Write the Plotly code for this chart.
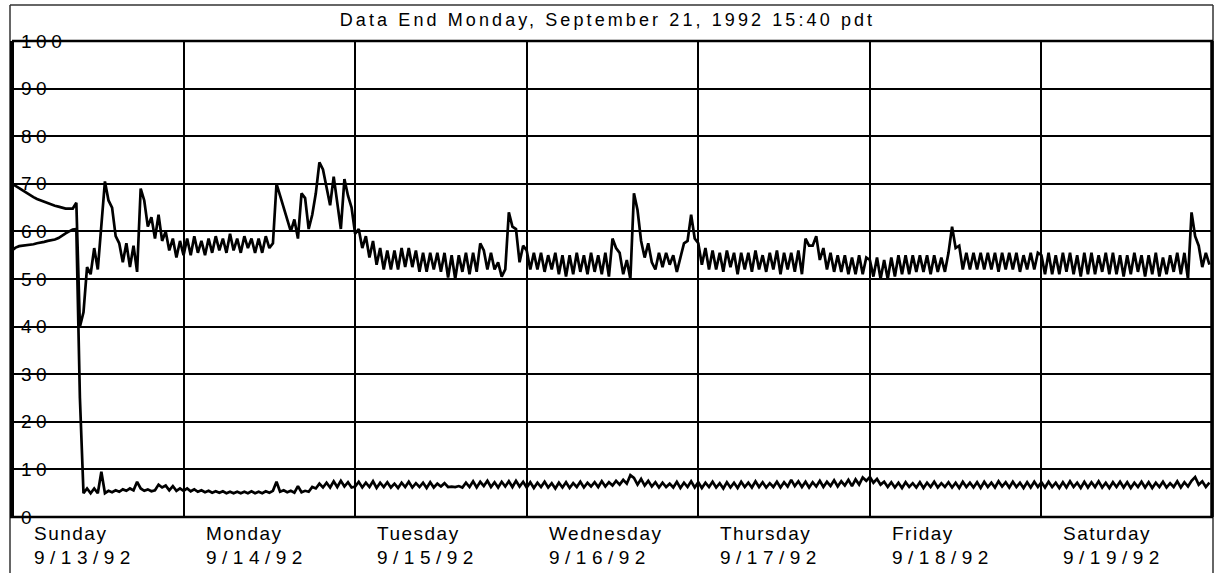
import plotly.graph_objects as go

# ---------------- data ----------------
title_text = "Data End Monday, September 21, 1992 15:40 pdt"
day_names = ["Sunday", "Monday", "Tuesday", "Wednesday", "Thursday", "Friday", "Saturday"]
day_dates = ["9/13/92", "9/14/92", "9/15/92", "9/16/92", "9/17/92", "9/18/92", "9/19/92"]
y_tick_values = [0, 10, 20, 30, 40, 50, 60, 70, 80, 90, 100]
sample_hours = 0.5   # one reading every half hour

upper_sun = [70, 69.6, 69.1, 68.6, 68.1, 67.6, 67.2, 66.8, 66.5, 66.2, 65.9, 65.6, 65.4, 65.2, 65.0, 64.8, 64.8, 64.8, 66.0,
             40, 43, 52.5, 51, 56.5, 52, 62, 70.5, 66.5, 65, 59, 57.5, 53.5, 57.5, 52.5, 57, 51.5, 69, 66.5, 61, 63, 58.5,
             63.5, 58, 60, 56, 58.5, 54.5, 58]
upper_mon = [55, 58.5, 55, 59, 55.5, 58, 55, 58.5, 55.5, 59, 56, 58.5, 55.5, 59.5, 56, 58.5, 55.5, 59, 56.5, 58.5, 55.5,
             58.5, 55.5, 59, 56.5, 57.5, 70, 67.5, 65, 62, 60, 62.5, 58.5, 68, 67, 60.5, 63.5, 68, 74.5, 73, 69.5, 65.5,
             71.5, 65.5, 60.5, 71, 67.5, 65]
upper_tue = [59.5, 60.5, 56.5, 59, 54.5, 58, 53, 56.5, 52, 56, 52, 56, 52, 56.5, 52.5, 56.5, 52.5, 56, 51.5, 55.5, 51.5,
             55.5, 52, 55.5, 51.5, 55.5, 50.3, 55, 50, 55, 51.5, 55.5, 51, 55.5, 51.5, 57.5, 56, 52, 55.5, 52, 53.5, 50.5,
             52, 64, 61, 60.5, 53.5, 57]
upper_wed = [56, 52, 55.5, 52, 55.5, 51.5, 55, 52, 55.5, 51, 55, 50.5, 55, 51, 55.5, 51.5, 55, 51, 55.5, 51.5, 55, 51,
             55.5, 50.5, 58.5, 56.5, 55.5, 51, 54, 50, 68, 64.5, 58, 54.5, 57.5, 53.5, 52, 55.5, 52.5, 55.5, 53, 55, 51.5,
             54.5, 57.5, 58, 63.5, 58.5]
upper_thu = [57.5, 53, 56.5, 52, 56, 52, 55.5, 51.5, 56, 52.5, 55.5, 51, 55.5, 52, 55.5, 51.5, 56, 52, 55, 51.5, 55.5,
             52, 56, 51, 55.5, 52, 55.5, 51.5, 56, 51, 58.5, 57, 57, 59, 54, 56.5, 52, 55.5, 51.5, 55, 51.5, 55, 51, 54.5,
             51, 55, 51, 54.5]
upper_fri = [54, 50.5, 54.5, 50, 54, 50, 54.5, 50.5, 55, 51, 55, 51, 55, 51.5, 55, 51.5, 55, 51, 55, 51.5, 54.5, 51.5,
             55.5, 61, 56.5, 57, 52, 55.5, 52, 55.5, 52, 55.5, 52, 55.5, 52, 55.5, 51.5, 55.5, 52, 55.5, 52, 55.5, 51.5,
             55, 52, 55.5, 52, 55.5]
upper_sat = [55, 51, 55.5, 51, 55, 51, 55.5, 51.5, 55.5, 51, 55, 50.5, 55.5, 51, 55.5, 51, 55, 51.5, 55.5, 51, 55.5, 51,
             55, 50.5, 55, 51, 55.5, 51.5, 55, 50.5, 55, 51, 55.5, 50.5, 54.5, 51, 55, 51.5, 55.5, 51, 55.5, 50, 64, 59,
             57, 52.5, 55.5, 53]

lower_sun = [56, 56.6, 56.9, 57, 57, 57.1, 57.3, 57.5, 57.6, 57.8, 58, 58.1, 58.3, 58.6, 59.2, 59.6, 60, 60.4, 60.5,
             25, 5, 6, 5, 6, 5, 9.5, 5, 5.5, 5.2, 5.6, 5.3, 5.8, 5.5, 6.0, 5.6, 7.4, 6.0, 5.5, 5.8, 5.4, 5.6, 6.8, 6.2,
             6.6, 5.6, 6.5, 5.5, 6]
lower_mon = [5.5, 6, 5.4, 5.8, 5.3, 5.6, 5.2, 5.5, 5.1, 5.4, 5.1, 5.4, 5.0, 5.3, 5.0, 5.3, 5.0, 5.3, 5.0, 5.4, 5.0, 5.3,
             5.0, 5.4, 5.1, 5.5, 7.4, 5.3, 5.6, 5.2, 5.5, 5.1, 6.5, 5.2, 5.5, 5.3, 6.3, 6.0, 7.0, 6.2, 7.2, 6.2, 7.5, 6.3,
             7.6, 6.4, 7.3, 6.2]
lower_tue = [6.4, 7.4, 6.2, 7.2, 6.3, 7.5, 6.1, 7.2, 6.3, 7.3, 6.2, 7.0, 6.1, 7.2, 6.3, 7.4, 6.2, 7.1, 6.3, 7.2, 6.1, 7.3,
             6.2, 7.0, 6.4, 7.1, 6.3, 6.4, 6.3, 6.5, 6.2, 7.2, 6.3, 7.5, 6.2, 7.4, 6.5, 7.6, 6.3, 7.3, 6.2, 7.4, 6.4, 7.5,
             6.3, 7.6, 6.4, 7.4]
lower_wed = [6.2, 7.3, 6.1, 7.2, 6.3, 7.4, 6.2, 7.1, 6.0, 7.2, 6.2, 7.3, 6.1, 7.1, 6.3, 7.4, 6.2, 7.2, 6.4, 7.3, 6.3, 7.5,
             6.4, 7.3, 6.6, 7.6, 6.8, 7.8, 7.0, 8.8, 8.2, 6.8, 8.0, 6.6, 7.6, 6.4, 7.3, 6.2, 7.2, 6.3, 7.0, 6.2, 7.4, 6.1,
             7.2, 6.3, 7.5, 6.2]
lower_thu = [7.3, 6.1, 7.2, 6.3, 7.4, 6.2, 7.1, 6.0, 7.3, 6.2, 7.2, 6.1, 7.4, 6.3, 7.2, 6.2, 7.5, 6.3, 7.3, 6.2, 7.1, 6.3,
             7.4, 6.2, 7.3, 6.4, 7.8, 6.5, 7.5, 6.3, 7.4, 6.2, 7.3, 6.4, 7.6, 6.3, 7.4, 6.5, 7.7, 6.4, 7.5, 6.6, 7.8, 6.5,
             7.9, 6.8, 8.3, 7.6]
lower_fri = [8.4, 7.2, 8.0, 6.8, 7.4, 6.3, 7.3, 6.2, 7.2, 6.1, 7.3, 6.3, 7.1, 6.2, 7.3, 6.1, 7.2, 6.3, 7.4, 6.2, 7.1, 6.3,
             7.3, 6.2, 7.2, 6.1, 7.4, 6.3, 7.2, 6.2, 7.3, 6.1, 7.4, 6.3, 7.2, 6.2, 7.5, 6.4, 7.3, 6.2, 7.4, 6.3, 7.2, 6.1,
             7.3, 6.2, 7.4, 6.3]
lower_sat = [7.3, 6.2, 7.4, 6.3, 7.2, 6.1, 7.3, 6.2, 7.5, 6.3, 7.2, 6.1, 7.4, 6.2, 7.3, 6.3, 7.5, 6.2, 7.2, 6.1, 7.3, 6.3,
             7.4, 6.2, 7.3, 6.1, 7.2, 6.3, 7.4, 6.2, 7.3, 6.1, 7.2, 6.3, 7.4, 6.2, 7.1, 6.3, 7.5, 6.2, 7.3, 6.4, 7.6, 8.4,
             6.8, 7.5, 6.3, 7.2]

upper = upper_sun + upper_mon + upper_tue + upper_wed + upper_thu + upper_fri + upper_sat
lower = lower_sun + lower_mon + lower_tue + lower_wed + lower_thu + lower_fri + lower_sat
t_upper = [i * sample_hours for i in range(len(upper))]
t_lower = [i * sample_hours for i in range(len(lower))]

# ---------------- layout geometry ----------------
W, H = 1217, 573
ML, MR, MT, MB = 12, 4, 41, 56
PW, PH = W - ML - MR, H - MT - MB
FONT = "Liberation Sans, Arial, Helvetica, sans-serif"


def px_x(px):
    return (px - ML) / PW


def px_y(py):
    return (H - MB - py) / PH


fig = go.Figure()
for tt, vv in ((t_upper, upper), (t_lower, lower)):
    fig.add_trace(go.Scatter(x=tt, y=vv, mode="lines", line=dict(color="black", width=2.7),
                             hoverinfo="skip", showlegend=False))

n_days = len(day_names)
fig.update_xaxes(range=[0, 24 * n_days], tickvals=[24 * i for i in range(n_days + 1)],
                 showticklabels=False, ticks="", showgrid=True, gridcolor="black", gridwidth=2,
                 zeroline=False, showline=False, fixedrange=True)
fig.update_yaxes(range=[0, 100], tickvals=y_tick_values, ticktext=[str(v) for v in y_tick_values],
                 ticklabelposition="inside", ticklabeloverflow="allow", ticks="", ticklabelstandoff=6,
                 tickfont=dict(family=FONT, size=19, color="black"),
                 showgrid=True, gridcolor="black", gridwidth=2, zeroline=False,
                 showline=False, fixedrange=True)

annotations = []
for i, name in enumerate(day_names):
    annotations.append(dict(x=24 * i, y=0, xref="x", yref="paper", text=name, showarrow=False,
                            xanchor="left", yanchor="top", align="left", xshift=20, yshift=-4,
                            font=dict(family=FONT, size=19, color="black")))
for i, date in enumerate(day_dates):
    annotations.append(dict(x=24 * i, y=0, xref="x", yref="paper", text=date, showarrow=False,
                            xanchor="left", yanchor="top", align="left", xshift=20, yshift=-28,
                            font=dict(family=FONT, size=19, color="black")))

frame = dict(type="line", xref="paper", yref="paper", line=dict(color="#333", width=1.5))
border = dict(type="line", xref="paper", yref="paper", line=dict(color="black", width=2.5))
shapes = [
    dict(frame, x0=px_x(10), y0=px_y(5), x1=px_x(1213), y1=px_y(5)),
    dict(frame, x0=px_x(10), y0=px_y(5), x1=px_x(10), y1=px_y(573)),
    dict(frame, x0=px_x(1213), y0=px_y(5), x1=px_x(1213), y1=px_y(573)),
    dict(border, x0=0, y0=1, x1=1, y1=1),
    dict(border, x0=px_x(10), y0=0, x1=1, y1=0),
    dict(border, x0=px_x(12), y0=0, x1=px_x(12), y1=1, line=dict(color="black", width=4)),
    dict(border, x0=px_x(1212), y0=0, x1=px_x(1212), y1=1, line=dict(color="black", width=3.5)),
]

fig.update_layout(
    width=W, height=H, margin=dict(l=ML, r=MR, t=MT, b=MB, pad=0),
    paper_bgcolor="white", plot_bgcolor="white",
    title=dict(text=title_text, x=0.5 - 5 / PW, xref="paper", xanchor="center", y=1 - 20 / H, yanchor="middle",
               font=dict(family=FONT, size=18, color="black")),
    annotations=annotations, shapes=shapes, showlegend=False,
)

date_idx = ",".join('g.annotation[data-index="%d"] text' % (n_days + i) for i in range(n_days))
name_idx = ",".join('g.annotation[data-index="%d"] text' % i for i in range(n_days))
css = ("html,body{margin:0;padding:0;overflow:hidden}" +
       ".ytick text{letter-spacing:4.5px}" + ".gtitle{letter-spacing:3.1px}" +
       name_idx + "{letter-spacing:1.5px}" + date_idx + "{letter-spacing:5.5px}")
post = "var s=document.createElement('style');s.textContent='%s';document.head.appendChild(s);" % css
fig.write_html("out.html", post_script=post, config={"displayModeBar": False})
